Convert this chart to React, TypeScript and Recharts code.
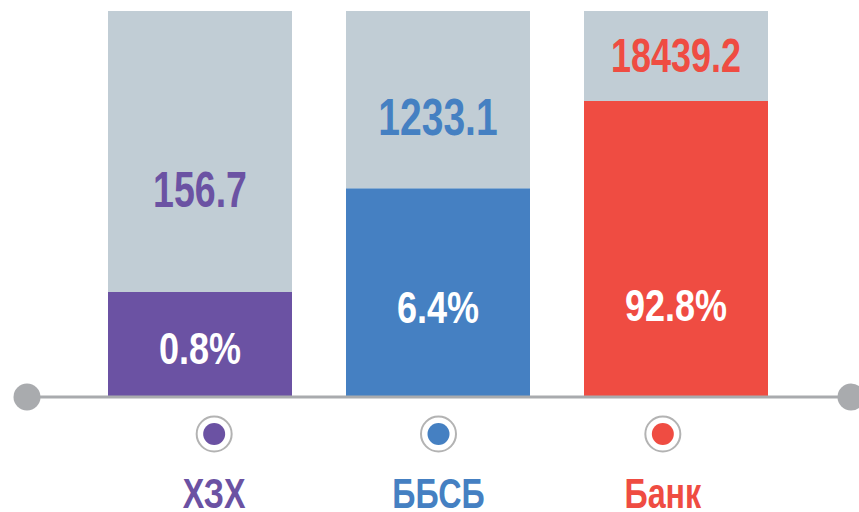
import { BarChart, Bar, XAxis, YAxis, LabelList, ReferenceLine, Cell } from 'recharts';

const categories = ['ХЗХ', 'ББСБ', 'Банк'];
const amounts = ['156.7', '1233.1', '18439.2'];
const shares = ['0.8%', '6.4%', '92.8%'];
// bar fill level as a share of the grey track (0-100)
const levels = [27.2, 54.1, 76.7];

const COLORS = ['#6b52a3', '#4580c2', '#ef4c42'];
const TRACK = '#c1cdd5';
const AXIS = '#a9abae';
const FONT = '"Liberation Sans", Arial, sans-serif';
const SQUEEZE = 0.76; // fake a condensed face

// label placement tweaks (px): amount above fill top, share above baseline
const AMOUNT_LIFT = [103, 72, 46];
const AMOUNT_SIZE = [50, 52, 48];
const SHARE_LIFT = [49, 90, 92];

const data = categories.map((name, i) => ({
  name,
  level: levels[i],
  rest: 100 - levels[i],
  amount: amounts[i],
  share: shares[i],
}));

function Narrow({ x, y, size, fill, children, sx = SQUEEZE }: any) {
  return (
    <text
      transform={`translate(${x},${y}) scale(${sx},1)`}
      textAnchor="middle"
      fill={fill}
      fontFamily={FONT}
      fontWeight="bold"
      fontSize={size}
    >
      {children}
    </text>
  );
}

function AxisShape(props: any) {
  const { x1, x2, y1 } = props;
  return (
    <g>
      <line x1={x1} x2={x2} y1={y1} y2={y1} stroke={AXIS} strokeWidth={3} />
      <circle cx={x1} cy={y1} r={13.5} fill={AXIS} />
      <circle cx={x2} cy={y1} r={13.5} fill={AXIS} />
    </g>
  );
}

function MarkerTick(props: any) {
  const { x, y, payload, index } = props;
  const c = COLORS[index];
  return (
    <g>
      <circle cx={x} cy={y - 1} r={17.5} fill="#fff" stroke="#b3b3b3" strokeWidth={2} />
      <circle cx={x} cy={y - 1} r={11} fill={c} />
      <Narrow x={x} y={y + 73} size={43} fill={c} sx={0.75}>
        {payload.value}
      </Narrow>
    </g>
  );
}

function AmountLabel(props: any) {
  const { x, y, width, height, index, value } = props;
  const size = AMOUNT_SIZE[index];
  const cy = y + height - AMOUNT_LIFT[index];
  return (
    <Narrow x={x + width / 2} y={cy + size * 0.358} size={size} fill={COLORS[index]} sx={0.75}>
      {value}
    </Narrow>
  );
}

function ShareLabel(props: any) {
  const { x, y, width, height, index, value } = props;
  const cy = y + height - SHARE_LIFT[index];
  return (
    <Narrow x={x + width / 2} y={cy + 16} size={45} fill="#fff" sx={0.8}>
      {value}
    </Narrow>
  );
}

export default function App() {
  return (
    <div style={{ position: 'absolute', left: 0, top: 0, background: '#fff' }}>
      <BarChart width={859} height={512} data={data} margin={{ top: 11, right: 8, bottom: 0, left: 27 }}>
        <XAxis xAxisId="bars" dataKey="name" hide padding={{ left: 54, right: 56 }} />
        <XAxis
          xAxisId="marks"
          dataKey="name"
          height={115}
          axisLine={false}
          tickLine={false}
          padding={{ left: 75, right: 76 }}
          tick={<MarkerTick />}
          interval={0}
        />
        <YAxis hide domain={[0, 100]} />
        <Bar xAxisId="bars" dataKey="level" stackId="s" isAnimationActive={false} barSize={184}>
          {data.map((d, i) => (
            <Cell key={d.name} fill={COLORS[i]} />
          ))}
          <LabelList dataKey="share" content={<ShareLabel />} />
        </Bar>
        <Bar xAxisId="bars" dataKey="rest" stackId="s" fill={TRACK} isAnimationActive={false} barSize={184}>
          <LabelList dataKey="amount" content={<AmountLabel />} />
        </Bar>
        <ReferenceLine xAxisId="bars" y={0} shape={<AxisShape />} />
      </BarChart>
    </div>
  );
}
